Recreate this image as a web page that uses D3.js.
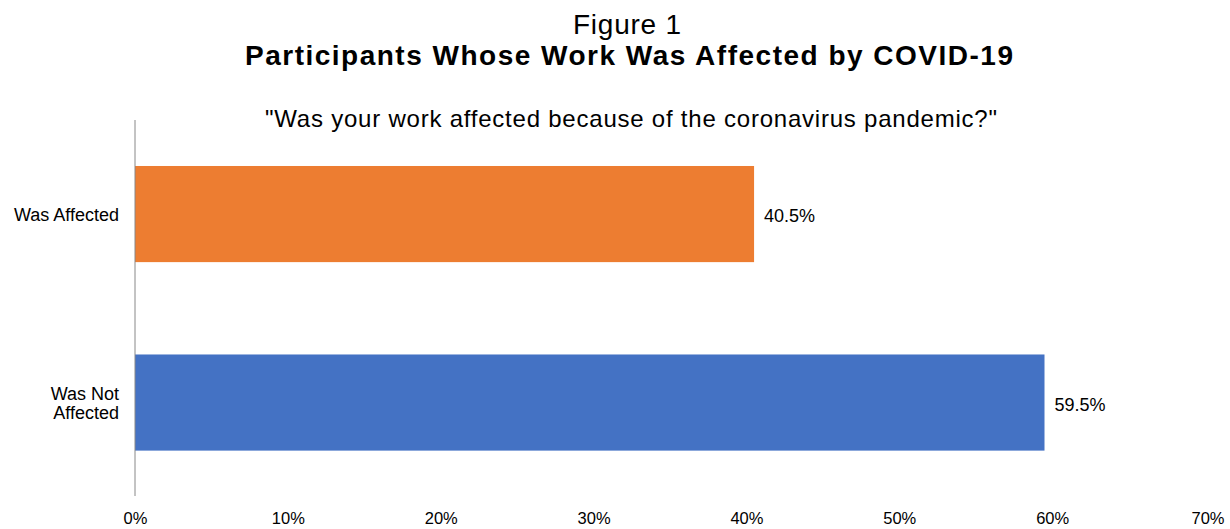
<!DOCTYPE html>
<html><head><meta charset="utf-8">
<script src="https://cdn.jsdelivr.net/npm/d3@7"></script>
<style>body{margin:0;background:#fff}svg{display:block}text{font-family:"Liberation Sans",Arial,sans-serif;fill:#000}</style>
</head><body>
<svg id="c" width="1230" height="529"></svg>
<script>
const categories = ["Was Affected", "Was Not Affected"];
const values = [0.405, 0.595];
const colors = ["#ED7D31", "#4472C4"];
const valueLabels = ["40.5%", "59.5%"];
const tickValues = [0, 0.1, 0.2, 0.3, 0.4, 0.5, 0.6, 0.7];
const titleLine1 = "Figure 1";
const titleLine2 = "Participants Whose Work Was Affected by COVID-19";
const subtitle = "\"Was your work affected because of the coronavirus pandemic?\"";

const svg = d3.select("#c");
const x = d3.scaleLinear().domain([0, 0.7]).range([135, 1205]);
const y = d3.scaleBand().domain(categories).range([120, 496.6]).paddingInner(0.49).paddingOuter(0.244);

svg.append("text").attr("x", 627).attr("y", 34).attr("text-anchor", "middle").style("font-size", "28px")
  .attr("textLength", 108).attr("lengthAdjust", "spacing").text(titleLine1);
svg.append("text").attr("x", 629).attr("y", 65).attr("text-anchor", "middle").style("font-size", "28px").style("font-weight", "bold")
  .attr("textLength", 768).attr("lengthAdjust", "spacing").text(titleLine2);
svg.append("text").attr("x", 631).attr("y", 127).attr("text-anchor", "middle").style("font-size", "24px")
  .attr("textLength", 732).attr("lengthAdjust", "spacing").text(subtitle);

svg.selectAll("rect.bar").data(categories).enter().append("rect")
  .attr("class", "bar")
  .attr("x", x(0)).attr("y", d => y(d))
  .attr("width", (d, i) => x(values[i]) - x(0))
  .attr("height", y.bandwidth())
  .attr("fill", (d, i) => colors[i]);

svg.selectAll("text.val").data(categories).enter().append("text")
  .attr("class", "val")
  .attr("x", (d, i) => x(values[i]) + 10)
  .attr("y", d => y(d) + y.bandwidth() / 2 + 8)
  .style("font-size", "18px")
  .text((d, i) => valueLabels[i]);

// category labels
categories.forEach(c => {
  const words = c === "Was Not Affected" ? ["Was Not", "Affected"] : [c];
  const cy = y(c) + y.bandwidth() / 2;
  const lh = 19.5;
  const t = svg.append("text").attr("text-anchor", "end").style("font-size", "18px");
  words.forEach((w, k) => {
    t.append("tspan").attr("x", 119).attr("y", cy + 7 + (k - (words.length - 1) / 2) * lh).text(w);
  });
});

// y axis line
svg.append("line").attr("x1", x(0)).attr("x2", x(0)).attr("y1", 120).attr("y2", 496).attr("stroke", "#888").attr("stroke-width", 1);

// x tick labels
const xAxis = d3.axisBottom(x).tickValues(tickValues).tickFormat(d3.format(".0%")).tickSize(0).tickPadding(0);
const gx = svg.append("g").attr("transform", "translate(0,512)").call(xAxis);
gx.select(".domain").remove();
gx.selectAll("text").style("font-size", "16.5px").attr("fill", "#000").style("font-family", "'Liberation Sans',Arial,sans-serif");
gx.selectAll(".tick").filter(d => d === 0.7).select("text").attr("text-anchor", "end").attr("x", 19);
</script>
</body></html>
